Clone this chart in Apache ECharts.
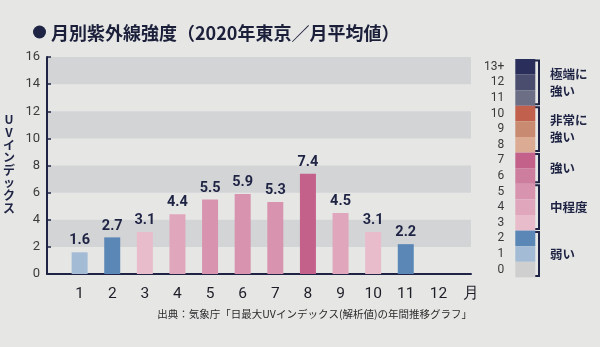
<!DOCTYPE html>
<html><head><meta charset="utf-8">
<script src="https://cdn.jsdelivr.net/npm/echarts@6/dist/echarts.min.js"></script>
<style>html,body{margin:0;padding:0;background:#e6e7e5}#c{width:600px;height:347px}</style>
</head><body><div id="c"></div>
<script>
// ---- data ----
const months = [1,2,3,4,5,6,7,8,9,10,11,12];
const monthLabels = ['1','2','3','4','5','6','7','8','9','10','11','12'];
const uvIndex = [1.6,2.7,3.1,4.4,5.5,5.9,5.3,7.4,4.5,3.1,2.2,null];
const yTickLabels = ['0','2','4','6','8','10','12','14','16'];
const levelLabels = ['0','1','2','3','4','5','6','7','8','9','10','11','12','13+'];
const groupNames = ['弱い','中程度','強い','非常に\n強い','極端に\n強い'];
const groupFrom = [0,3,6,8,11];
const groupTo = [2,5,7,10,13];
const titleText = '月別紫外線強度（2020年東京／月平均値）';
const yAxisName = 'UVインデックス';
const sourceText = '出典：気象庁「日最大UVインデックス(解析値)の年間推移グラフ」';
const monthUnit = '月';

// ---- styles ----
const levelColors = ['#cfcfcf','#a3bbd5','#5a87b5','#e8bccb','#e0a6bc','#d893ae','#cd7d9d','#c3618b',
  '#dbac93','#c98a72','#c0604d','#6c6e86','#4b4d6f','#292e5a'];
const navy = '#1f2444';
const legendTop = 59, blockH = 15.6;

const chart = echarts.init(document.getElementById('c'), null, {renderer:'canvas'});

const pieces = levelLabels.map((lab, i) => i < 13
  ? {gte: i, lt: i + 1, color: levelColors[i], label: lab}
  : {gte: i, color: levelColors[i], label: lab});

const graphics = [];
graphics.push({type:'circle', shape:{cx:39.5, cy:32, r:6.5}, style:{fill:navy}});
graphics.push({type:'text', x:51, y:33, style:{text:titleText, fontSize:18, fontWeight:'bold',
  fontFamily:'"Noto Sans CJK JP"', fill:'#1b1f3a', textVerticalAlign:'middle'}});
graphics.push({type:'text', x:9, y:164, style:{text:yAxisName.split('').join('\n'), fontSize:12, fontWeight:'bold',
  lineHeight:12.6, fontFamily:'"Noto Sans CJK JP"', fill:navy, textAlign:'center', textVerticalAlign:'middle'}});
graphics.push({type:'text', x:472, y:314, style:{text:sourceText, fontSize:10.5,
  fontFamily:'"Noto Sans CJK JP"', fill:'#2a2a2a', textAlign:'right', textVerticalAlign:'middle'}});
groupNames.forEach((name, g) => {
  const yTop = legendTop + (13 - groupTo[g]) * blockH + 1.5;
  const yBot = legendTop + (14 - groupFrom[g]) * blockH - 1.5;
  graphics.push({type:'polyline', shape:{points:[[533,yTop],[539,yTop],[539,yBot],[533,yBot]]},
    style:{stroke:navy, lineWidth:2, fill:null}});
  graphics.push({type:'text', x:550, y:(yTop + yBot) / 2, style:{text:name, fontSize:12.5, fontWeight:'bold',
    lineHeight:17, fontFamily:'"Noto Sans CJK JP"', fill:navy, textVerticalAlign:'middle'}});
});

chart.setOption({
  backgroundColor:'#e6e7e5',
  animation:false,
  grid:{left:47, right:129, top:57, bottom:73},
  xAxis:{type:'value', min:0, max:13, interval:1,
    axisLine:{show:true, onZero:false, lineStyle:{color:navy, width:2}},
    axisTick:{show:false}, splitLine:{show:false},
    axisLabel:{margin:12, fontSize:15.5, fontFamily:'Roboto', color:'#1e1e28',
      formatter: v => v === 13 ? monthUnit : (v >= 1 && v <= 12 ? monthLabels[v - 1] : '')}},
  yAxis:{type:'value', min:0, max:16, interval:2,
    axisLine:{show:true, lineStyle:{color:navy, width:2}},
    axisTick:{show:true, inside:true, length:4, lineStyle:{color:navy, width:1.5}},
    splitLine:{show:false},
    splitArea:{show:true, areaStyle:{color:['rgba(0,0,0,0)','#d3d4d6']}},
    axisLabel:{margin:7, fontSize:13, fontFamily:'Roboto', color:'#3b3b3b',
      formatter: v => yTickLabels[v / 2]}},
  visualMap:{type:'piecewise', seriesIndex:0, dimension:1, orient:'vertical',
    left:484, top:legendTop, padding:0, itemWidth:20, itemHeight:blockH, itemGap:0,
    itemSymbol:'rect', textGap:11, hoverLink:false, selectedMode:false,
    textStyle:{color:'#3a3a3a', fontSize:12, fontFamily:'Roboto'}, pieces:pieces},
  graphic: graphics,
  series:[{type:'bar', barWidth:16,
    data: months.map((m, i) => [m, uvIndex[i]]).filter(d => d[1] != null),
    label:{show:true, position:'top', distance:4, fontSize:14.5, fontWeight:'bold',
      fontFamily:'Roboto', color:navy, formatter: p => p.value[1].toFixed(1)}}]
});
</script></body></html>
